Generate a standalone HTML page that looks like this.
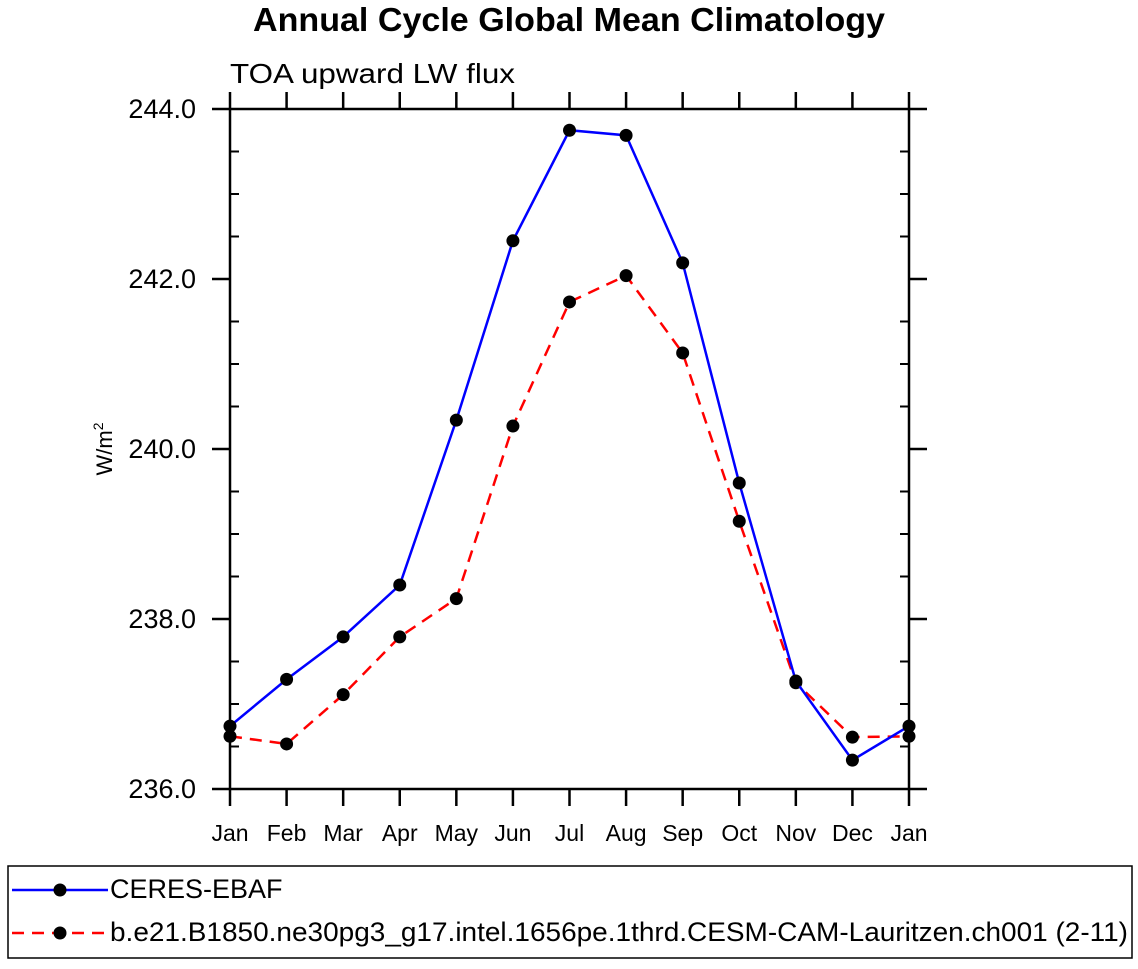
<!DOCTYPE html>
<html><head><meta charset="utf-8"><style>
body{margin:0;background:#fff;}
text{font-family:"Liberation Sans",Arial,sans-serif;}
</style></head><body>
<svg id="chart" width="1138" height="964" xmlns="http://www.w3.org/2000/svg">
<text x="569" y="31" text-anchor="middle" font-size="33" font-weight="bold" textLength="632" lengthAdjust="spacingAndGlyphs">Annual Cycle Global Mean Climatology</text>
<text x="230" y="83" font-size="28" textLength="285" lengthAdjust="spacingAndGlyphs">TOA upward LW flux</text>
<text transform="translate(112,449) rotate(-90)" text-anchor="middle" font-size="22">W/m<tspan dy="-9" font-size="14">2</tspan></text>
<g id="axes"></g>
<g id="series"></g>
<g>
<rect x="8" y="866" width="1124" height="92" fill="none" stroke="#000" stroke-width="1.5"/>
<g>
<line x1="12" y1="890" x2="108" y2="890" stroke="#0000ff" stroke-width="2.5"/>
<circle cx="60" cy="890" r="6.5" fill="#000"/>
<text x="110" y="898" font-size="27">CERES-EBAF</text>
</g>
<g>
<line x1="12" y1="933" x2="108" y2="933" stroke="#ff0000" stroke-width="2.5" stroke-dasharray="12,8"/>
<circle cx="60" cy="933" r="6.5" fill="#000"/>
<text x="110" y="941" font-size="27" textLength="1018" lengthAdjust="spacingAndGlyphs">b.e21.B1850.ne30pg3_g17.intel.1656pe.1thrd.CESM-CAM-Lauritzen.ch001 (2-11)</text>
</g>
</g>
</svg>
<script>
const months = ["Jan","Feb","Mar","Apr","May","Jun","Jul","Aug","Sep","Oct","Nov","Dec","Jan"];
const ceres = [236.74,237.29,237.79,238.40,240.34,242.45,243.75,243.69,242.19,239.60,237.27,236.34,236.74];
const model = [236.62,236.53,237.11,237.79,238.24,240.27,241.73,242.04,241.13,239.15,237.25,236.61,236.62];
const yTicks = ["236.0","238.0","240.0","242.0","244.0"];
const NS="http://www.w3.org/2000/svg";
const L=230,R=909,T=109,B=789,yMin=236,yMax=244;
const xs=i=>L+(R-L)*i/(months.length-1);
const ys=v=>B-(v-yMin)/(yMax-yMin)*(B-T);
function mk(tag,attrs,parent){const e=document.createElementNS(NS,tag);for(const k in attrs)e.setAttribute(k,attrs[k]);parent.appendChild(e);return e;}
const ax=document.getElementById('axes');
let f=mk('rect',{x:L,y:T,width:R-L,height:B-T,fill:'none',stroke:'#000','stroke-width':2.5},ax);


months.forEach((m,i)=>{
  const x=xs(i);
  mk('line',{x1:x,y1:B,x2:x,y2:B+17,stroke:'#000','stroke-width':2.5},ax);
  mk('line',{x1:x,y1:T,x2:x,y2:T-17,stroke:'#000','stroke-width':2.5},ax);
  const t=mk('text',{x:x,y:841,'text-anchor':'middle','font-size':23},ax);
  t.textContent=m;
  
  
});
for(let v=yMin;v<=yMax+1e-9;v+=0.5){
  const y=ys(v);
  if(Math.abs(v-Math.round(v/2)*2)<1e-9){
    mk('line',{x1:L-18,y1:y,x2:L,y2:y,stroke:'#000','stroke-width':2.5},ax);
    mk('line',{x1:R,y1:y,x2:R+18,y2:y,stroke:'#000','stroke-width':2.5},ax);
  }else{
    mk('line',{x1:L,y1:y,x2:L+9,y2:y,stroke:'#000','stroke-width':2},ax);
    mk('line',{x1:R-9,y1:y,x2:R,y2:y,stroke:'#000','stroke-width':2},ax);
  }
}
yTicks.forEach(s=>{
  const t=mk('text',{x:196,y:ys(parseFloat(s))+9,'text-anchor':'end','font-size':27},ax);
  t.textContent=s;
  
  
});
const sg=document.getElementById('series');
function series(vals,color,dash,name){
  const g=mk('g',{},sg);
  
  
  const p=mk('polyline',{points:vals.map((v,i)=>xs(i)+','+ys(v)).join(' '),fill:'none',stroke:color,'stroke-width':2.5},g);
  if(dash)p.setAttribute('stroke-dasharray',dash);
  vals.forEach((v,i)=>{
    const c=mk('circle',{cx:xs(i),cy:ys(v),r:6.5,fill:'#000'},g);
    
    
  });
}
series(model,'#ff0000','12,8','model-series');
series(ceres,'#0000ff',null,'ceres-series');
</script>
</body></html>
